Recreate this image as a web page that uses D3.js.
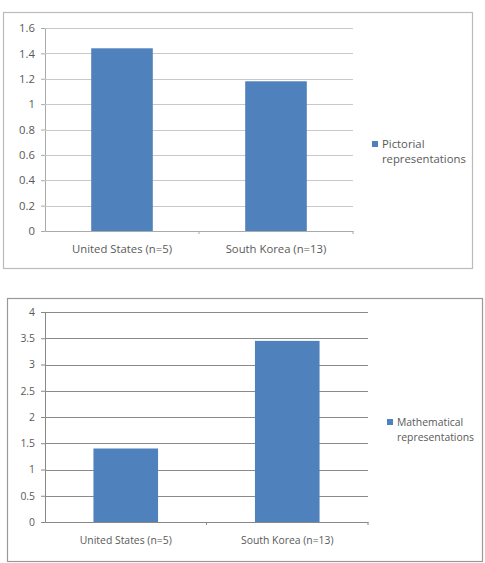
<!DOCTYPE html>
<html>
<head>
<meta charset="utf-8">
<script src="https://cdn.jsdelivr.net/npm/d3@7"></script>
<style>
  body { margin: 0; background: #fff; }
  svg text { font-family: "Open Sans", "Noto Sans", sans-serif; }
</style>
</head>
<body>
<script>
// data
const categories = ['United States (n=5)', 'South Korea (n=13)'];
const pictorialValues = [1.44, 1.18];
const pictorialTicks = [0, 0.2, 0.4, 0.6, 0.8, 1, 1.2, 1.4, 1.6];
const mathValues = [1.4, 3.45];
const mathTicks = [0, 0.5, 1, 1.5, 2, 2.5, 3, 3.5, 4];
const legendPictorial = ['Pictorial', 'representations'];
const legendMath = ['Mathematical', 'representations'];

const svg = d3.select('body').append('svg')
    .attr('width', 485)
    .attr('height', 563);

function draw_chart(opt) {
    let g = svg.append('g');
    g.append('rect')
        .attr('x', opt.box[0] + 0.5).attr('y', opt.box[1] + 0.5)
        .attr('width', opt.box[2]).attr('height', opt.box[3])
        .attr('fill', '#fff').attr('stroke', opt.frame).attr('stroke-width', 1.2);

    let x = d3.scaleBand()
        .domain(opt.cats)
        .range([opt.left, opt.right])
        .paddingInner(0.6).paddingOuter(0.3);
    let y = d3.scaleLinear()
        .domain(d3.extent(opt.ticks))
        .range([opt.bottom, opt.top]);

    // left axis with its ticks
    let yAxis = d3.axisLeft(y).tickValues(opt.ticks)
        .tickSize(4).tickFormat(d => String(d));
    let ya = g.append('g').attr('transform', `translate(${opt.left},0)`).call(yAxis);
    ya.select('.domain').attr('stroke', opt.axis);
    ya.selectAll('.tick line').attr('stroke', opt.axis);
    ya.selectAll('.tick text').attr('fill', '#595959')
        .style('font-size', opt.fs + 'px').attr('x', -10);

    // gridlines
    g.append('g').selectAll('line').data(opt.ticks.slice(1)).enter().append('line')
        .attr('x1', opt.left).attr('x2', opt.right)
        .attr('y1', d => Math.round(y(d)) + 0.5).attr('y2', d => Math.round(y(d)) + 0.5)
        .attr('stroke', opt.grid);

    // bars
    g.append('g').selectAll('rect').data(opt.values).enter().append('rect')
        .attr('x', (d, i) => x(opt.cats[i]))
        .attr('width', x.bandwidth())
        .attr('y', d => y(d))
        .attr('height', d => y(0) - y(d))
        .attr('fill', '#4f81bd');

    // category axis
    let xAxis = d3.axisBottom(x).tickSize(0).tickPadding(opt.labelPad);
    let xa = g.append('g').attr('transform', `translate(0,${opt.bottom})`).call(xAxis);
    xa.select('.domain').attr('stroke', opt.axis);
    xa.selectAll('.tick text').attr('fill', '#595959').style('font-size', opt.fs + 'px');
    let mid = (opt.left + opt.right) / 2;
    [mid, opt.right].forEach(px => {
        g.append('line').attr('x1', px).attr('x2', px)
            .attr('y1', opt.bottom).attr('y2', opt.bottom + 3)
            .attr('stroke', opt.axis);
    });

    // legend
    g.append('rect')
        .attr('x', opt.legend[0]).attr('y', opt.legend[1] - 3)
        .attr('width', 6).attr('height', 6).attr('fill', '#4f81bd');
    g.append('text')
        .attr('x', opt.legend[0] + 10).attr('y', opt.legend[1])
        .attr('fill', '#595959').style('font-size', opt.fs + 'px')
        .selectAll('tspan').data(opt.legendText).enter().append('tspan')
        .attr('x', opt.legend[0] + 10)
        .attr('dy', (d, i) => i ? 15 : opt.fs * 0.36)
        .text(d => d);
}

draw_chart({
    box: [3, 12, 469, 256], frame: '#bbb', axis: '#aaa', grid: '#c8c8c8',
    left: 45, right: 353, top: 28, bottom: 231,
    cats: categories, values: pictorialValues, ticks: pictorialTicks,
    fs: 11.3, labelPad: 14,
    legend: [372, 144], legendText: legendPictorial
});

draw_chart({
    box: [7, 298, 475, 263], frame: '#999', axis: '#888', grid: '#8a8a8a',
    left: 45, right: 368, top: 312, bottom: 522,
    cats: categories, values: mathValues, ticks: mathTicks,
    fs: 10.4, labelPad: 15,
    legend: [387, 422], legendText: legendMath
});
</script>
</body>
</html>
